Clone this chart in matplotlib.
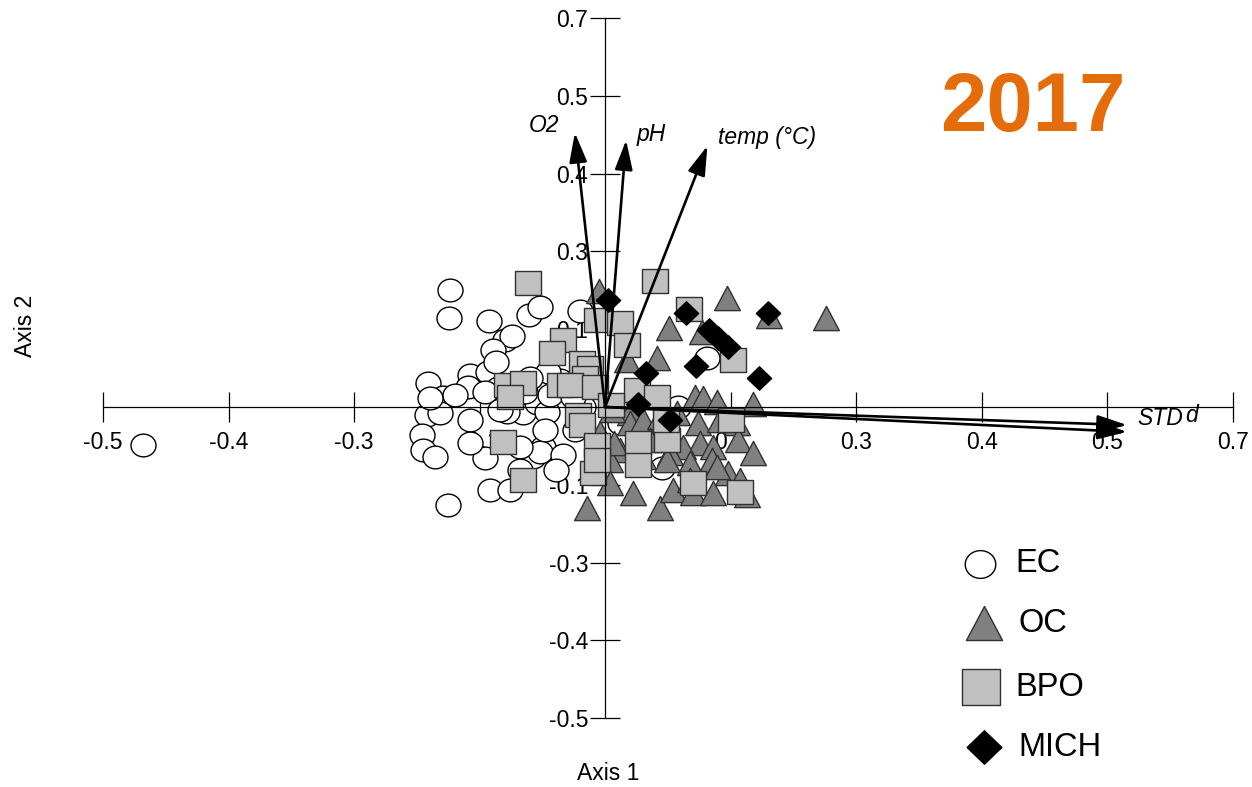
import matplotlib
matplotlib.use('Agg')
import matplotlib.pyplot as plt
from matplotlib.path import Path
from matplotlib.transforms import Affine2D

plt.rcParams['font.family'] = ['Liberation Sans', 'DejaVu Sans']

# ---------------- data ----------------
ec_x = [-0.460, -0.154, -0.155, -0.116, -0.076, -0.065, -0.025, -0.100, -0.093, -0.112,
        -0.176, -0.134, -0.117, -0.136, -0.161, -0.149, -0.107, -0.177, -0.164, -0.134,
        -0.182, -0.181, -0.169, -0.120, -0.115, -0.095, -0.156, -0.082, -0.068, -0.058,
        -0.062, -0.072, -0.065, -0.085, -0.042, -0.055, -0.080, -0.098, 0.015, 0.057,
        0.102, 0.073, -0.022, -0.032, -0.085, -0.045, -0.057, -0.075, -0.030, -0.095,
        -0.109, -0.120, -0.060, -0.134, -0.105, -0.049, -0.174]
ec_y = [-0.061, 0.188, 0.143, 0.138, 0.148, 0.161, 0.154, 0.108, 0.114, 0.092,
        0.039, 0.051, 0.056, 0.032, 0.016, 0.019, 0.031, -0.013, -0.010, -0.021,
        -0.045, -0.069, -0.080, -0.082, -0.133, -0.133, -0.158, -0.010, 0.006, -0.008,
        -0.064, -0.080, -0.072, -0.064, -0.077, 0.019, 0.024, -0.008, -0.026, -0.098,
        0.079, 0.000, 0.000, 0.016, -0.101, 0.043, 0.056, 0.047, -0.037, 0.023,
        0.072, 0.024, -0.037, -0.058, -0.005, -0.101, 0.014]

oc_x = [-0.006, 0.121, 0.220, 0.163, 0.064, 0.097, 0.052, 0.022, 0.090, 0.098,
        0.112, 0.147, 0.025, 0.025, -0.005, 0.038, 0.055, 0.072, 0.093, 0.115,
        0.131, 0.132, 0.147, 0.095, 0.108, 0.078, 0.065, 0.015, -0.008, 0.005,
        0.038, 0.062, 0.085, 0.107, 0.122, 0.112, 0.005, 0.028, -0.018, 0.055,
        0.068, 0.088, 0.108, 0.141, 0.085, 0.009, 0.045, 0.134, 0.007]
oc_y = [0.186, 0.175, 0.143, 0.146, 0.127, 0.121, 0.079, 0.076, 0.016, 0.014,
        0.008, 0.005, -0.010, -0.026, -0.042, -0.021, -0.016, -0.010, -0.026, -0.021,
        -0.026, -0.053, -0.074, -0.058, -0.064, -0.064, -0.074, -0.069, -0.069, -0.085,
        -0.080, -0.085, -0.090, -0.085, -0.106, -0.096, -0.122, -0.138, -0.162, -0.162,
        -0.133, -0.138, -0.138, -0.141, -0.117, -0.058, -0.053, -0.117, -0.005]

bpo_x = [-0.077, 0.050, 0.084, -0.008, 0.015, -0.042, 0.022, -0.053, -0.023, -0.015,
         -0.020, -0.098, -0.082, -0.095, -0.045, -0.035, -0.010, 0.032, 0.052, 0.127,
         -0.027, -0.023, 0.125, 0.033, 0.062, -0.008, -0.102, 0.033, -0.012, -0.082,
         0.088, 0.134, -0.008, 0.061, 0.006]
bpo_y = [0.199, 0.203, 0.158, 0.140, 0.135, 0.108, 0.100, 0.087, 0.071, 0.063,
         0.047, 0.035, 0.039, 0.016, 0.035, 0.035, 0.032, 0.027, 0.016, 0.076,
         -0.013, -0.029, -0.021, -0.058, -0.053, -0.061, -0.056, -0.093, -0.106, -0.117,
         -0.122, -0.137, -0.085, -0.021, 0.003]

mich_x = [0.003, 0.081, 0.162, 0.104, 0.113, 0.122, 0.091, 0.041, 0.153, 0.033, 0.065]
mich_y = [0.172, 0.151, 0.151, 0.124, 0.111, 0.096, 0.066, 0.055, 0.047, 0.005, -0.021]

vec_labels = ['O2', 'pH', 'temp (°C)', 'd', 'STD']
vec_x = [-0.030, 0.021, 0.102, 0.520, 0.520]
vec_y = [0.441, 0.429, 0.420, -0.029, -0.040]

tick_pos = [-0.5, -0.375, -0.25, -0.125, 0.125, 0.25, 0.375, 0.5, 0.625]
x_tick_labels = ['-0.5', '-0.4', '-0.3', '-0.1', '0.1', '0.3', '0.4', '0.5', '0.7']
y_tick_labels = ['-0.5', '-0.4', '-0.3', '-0.1', '0.1', '0.3', '0.4', '0.5', '0.7']

groups = ['EC', 'OC', 'BPO', 'MICH']

# ---------------- markers ----------------
ell = Affine2D().scale(1.1, 1.0).transform_path(Path.unit_circle())
tri = Path([(-0.53, -0.5), (0.53, -0.5), (0.0, 0.5), (-0.53, -0.5)], closed=True)
sqr = Path([(-0.53, -0.5), (0.53, -0.5), (0.53, 0.5), (-0.53, 0.5), (-0.53, -0.5)], closed=True)
dia = Path([(0.0, 0.5), (0.52, 0.0), (0.0, -0.5), (-0.52, 0.0), (0.0, 0.5)], closed=True)

styles = {
    'EC': dict(marker=ell, fc='white', ec='black', size=18.0),
    'OC': dict(marker=tri, fc='#808080', ec='#303030', size=18.5),
    'BPO': dict(marker=sqr, fc='#C0C0C0', ec='#303030', size=18.5),
    'MICH': dict(marker=dia, fc='black', ec='black', size=17.5),
}

W, H = 1252, 787
fig = plt.figure(figsize=(W / 100, H / 100), dpi=100)
ax = fig.add_axes([0, 0, 1, 1])
ax.set_xlim(-0.6026, 0.6444)
ax.set_ylim(-0.6109, 0.6543)

data = {'EC': (ec_x, ec_y), 'OC': (oc_x, oc_y), 'BPO': (bpo_x, bpo_y), 'MICH': (mich_x, mich_y)}
for g in groups:
    st = styles[g]
    xs, ys = data[g]
    ax.scatter(xs, ys, s=st['size'] ** 2, marker=st['marker'], facecolor=st['fc'],
               edgecolor=st['ec'], linewidth=1.0, zorder=5 if g == 'MICH' else 2)

# axes through origin
for side in ['top', 'right']:
    ax.spines[side].set_visible(False)
ax.spines['left'].set_position(('data', 0))
ax.spines['bottom'].set_position(('data', 0))
ax.spines['left'].set_bounds(-0.5, 0.625)
ax.spines['bottom'].set_bounds(-0.5, 0.625)
for side in ['left', 'bottom']:
    ax.spines[side].set_linewidth(0.9)
ax.set_xticks(tick_pos)
ax.set_xticklabels(x_tick_labels)
ax.set_yticks(tick_pos)
ax.set_yticklabels(y_tick_labels)
ax.tick_params(direction='inout', length=21, width=0.9, labelsize=16.5, colors='black')
ax.tick_params(axis='x', pad=6.5)
ax.tick_params(axis='y', pad=1.5)
ax.set_facecolor('none')

# biplot vectors
label_offsets = [(-31, 7, 'center'), (10, 6, 'left'), (11, 8, 'left'), (58, 10, 'left'), (10, 13, 'left')]
for lab, vx, vy, (dx, dy, ha) in zip(vec_labels, vec_x, vec_y, label_offsets):
    ax.annotate('', xy=(vx, vy), xytext=(0, 0),
                arrowprops=dict(arrowstyle='-|>,head_length=0.6,head_width=0.18',
                                mutation_scale=30, lw=1.9, color='black',
                                shrinkA=0, shrinkB=0), zorder=4)
    ax.annotate(lab, xy=(vx, vy), xytext=(dx, dy), textcoords='offset pixels',
                ha=ha, va='center', fontsize=16.5, style='italic', zorder=4)

# axis titles
fig.text(25 / W, 1 - 326 / H, 'Axis 2', rotation=90, ha='center', va='center', fontsize=16.5)
fig.text(608 / W, 1 - 773 / H, 'Axis 1', ha='center', va='center', fontsize=16.5)

# year label
fig.text(1033 / W, 1 - 109 / H, '2017', ha='center', va='center', fontsize=60,
         fontweight='bold', color='#E46C0A')

# legend (manual)
leg_rows = [(980, 564, 1015), (984, 623, 1018), (981, 687, 1015), (984, 747, 1018)]
leg_sizes = {'EC': 22, 'OC': 26, 'BPO': 27, 'MICH': 25}
for g, (mx, my, tx) in zip(groups, leg_rows):
    st = styles[g]
    ax.scatter([mx / W], [1 - my / H], s=leg_sizes[g] ** 2, marker=st['marker'],
               facecolor=st['fc'], edgecolor=st['ec'], linewidth=1.0,
               transform=fig.transFigure, clip_on=False, zorder=6)
    fig.text(tx / W, 1 - my / H, g, ha='left', va='center', fontsize=23.5)

fig.savefig('out.png', dpi=100)
